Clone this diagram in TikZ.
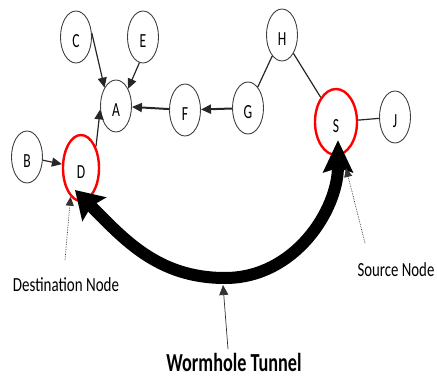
\documentclass[tikz,border=0pt]{standalone}
\usepackage{fontspec}
\setmainfont{Carlito}
\usetikzlibrary{shapes.geometric,arrows.meta}
% condensed lettering
\newcommand{\narrow}[2][0.68]{\scalebox{#1}[1]{#2}}

\begin{document}
\begin{tikzpicture}[x=1pt,y=1pt,
  vertex/.style={ellipse, draw=black!75, line width=0.9pt,
    minimum width=31pt, minimum height=52pt, inner sep=0pt,
    font=\fontsize{20}{20}\selectfont, text height=21pt, text depth=0pt},
  keyvertex/.style={vertex, draw=red, line width=2.4pt},
  link/.style={line width=1.2pt, draw=black!85},
  arc/.style={link, -{Triangle[length=10pt,width=9pt]}},
  heavyarc/.style={arc, line width=2pt},
  pointer/.style={densely dotted, line width=0.7pt, draw=black!80,
    -{Triangle[length=9pt,width=8pt]}},
  caption/.style={font=\fontsize{20}{20}\selectfont, inner sep=0pt},
  tunnel/.style={line width=12pt,
    {Stealth[length=27pt,width=33pt,inset=4pt]}-{Stealth[length=32pt,width=29pt,inset=4pt]}}
]
\useasboundingbox (0,0) rectangle (437,376);

% graph nodes
\node[vertex] (C) at (76,339) {\narrow{C}};
\node[vertex] (E) at (143,339) {\narrow{E}};
\node[vertex] (A) at (116,270) {\narrow{A}};
\node[vertex] (F) at (185,266) {\narrow{F}};
\node[vertex] (B) at (27,219) {\narrow{B}};
\node[keyvertex, minimum width=36pt, minimum height=66pt] (D) at (81,208) {\narrow{D}};
\node[vertex] (G) at (248,268) {\narrow{G}};
\node[vertex] (H) at (282,341) {\narrow{H}};
\node[keyvertex, minimum width=42pt, minimum height=66pt] (S) at (336,254) {\narrow{S}};
\node[vertex] (J) at (395,259) {\narrow{J}};

% ordinary links
\draw[arc] (C.15) -- (A.122);
\draw[arc] (E.262) -- (A.55);
\draw[heavyarc] (F) -- (A);
\draw[heavyarc] (G) -- (F);
\draw[arc] (B) -- (D);
\draw[arc] (D.55) -- (A.192);
\draw[link] (G) -- (H);
\draw[link] (H) -- (S);
\draw[link] (S) -- (J);

% wormhole tunnel between source and destination
\coordinate (dtip) at (75,186);
\coordinate (low) at (225,98);
\coordinate (stip) at (338,236);
\draw[tunnel] (dtip) to[out=-45,in=180] (low) to[out=0,in=-90] (stip);

% captions
\node[caption] (dest) at (66,91) {\narrow[0.75]{Destination Node}};
\node[caption] (src) at (396,106) {\narrow[0.74]{Source Node}};
\node[caption, font=\fontsize{26}{26}\selectfont\bfseries] (worm) at (234,14) {\narrow[0.7]{Wormhole Tunnel}};

% caption pointers
\coordinate (destfoot) at (65,116);
\coordinate (srcfoot) at (365,133);
\coordinate (srchead) at (346,208);
\coordinate (wormhead) at (223,91);
\coordinate (wormfoot) at (228,27);
\draw[pointer] (destfoot) -- (D.250);
\draw[pointer] (srcfoot) -- (srchead);
\draw[line width=0.7pt, draw=black!80, -{Triangle[length=10pt,width=9pt]}] (wormfoot) -- (wormhead);
\end{tikzpicture}
\end{document}
